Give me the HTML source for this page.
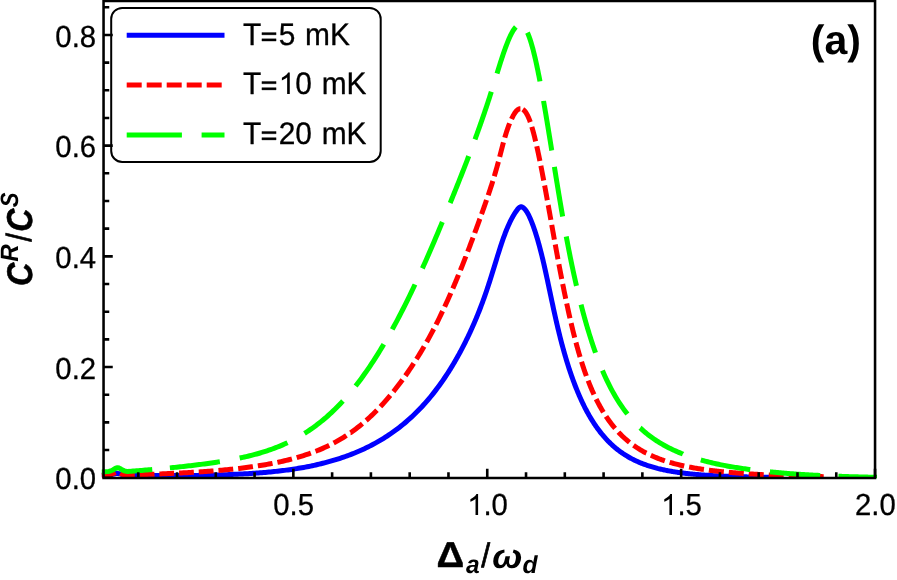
<!DOCTYPE html>
<html><head><meta charset="utf-8"><title>plot</title>
<style>
html,body{margin:0;padding:0;background:#fff;}
svg{display:block;font-family:"Liberation Sans",sans-serif;will-change:transform;text-rendering:geometricPrecision;}
</style></head><body>
<svg width="897" height="580" viewBox="0 0 897 580">
<rect width="897" height="580" fill="#fff"/>
<defs><clipPath id="pc"><rect x="101.07499999999999" y="0" width="776.4499999999999" height="478.29999999999995"/></clipPath></defs>
<g fill="none" stroke-width="5" stroke-linejoin="round" clip-path="url(#pc)">
<path d="M101.81,474.73 L103.55,474.73 L105.29,474.73 L107.03,474.72 L108.77,474.71 L110.51,474.65 L112.25,474.43 L113.99,473.99 L115.72,473.50 L117.46,473.36 L119.20,473.70 L120.94,474.22 L122.68,474.56 L124.42,474.69 L126.16,474.72 L127.90,474.73 L129.64,474.78 L131.38,474.85 L133.12,474.92 L134.86,474.98 L136.60,475.04 L138.34,475.09 L140.08,475.14 L141.82,475.19 L143.56,475.23 L145.30,475.27 L147.04,475.31 L148.78,475.34 L150.52,475.37 L152.26,475.40 L154.00,475.42 L155.74,475.45 L157.48,475.47 L159.22,475.48 L160.96,475.50 L162.70,475.51 L164.44,475.52 L166.17,475.53 L167.91,475.54 L169.65,475.55 L171.39,475.55 L173.13,475.55 L174.87,475.55 L176.61,475.55 L178.35,475.54 L180.09,475.54 L181.83,475.53 L183.57,475.52 L185.31,475.51 L187.05,475.50 L188.79,475.48 L190.53,475.46 L192.27,475.45 L194.01,475.43 L195.75,475.40 L197.49,475.38 L199.23,475.35 L200.97,475.32 L202.71,475.29 L204.45,475.26 L206.19,475.23 L207.93,475.19 L209.67,475.15 L211.41,475.11 L213.15,475.07 L214.89,475.03 L216.63,474.98 L218.36,474.93 L220.10,474.88 L221.84,474.82 L223.58,474.77 L225.32,474.71 L227.06,474.64 L228.80,474.58 L230.54,474.51 L232.28,474.44 L234.02,474.37 L235.76,474.29 L237.50,474.21 L239.24,474.12 L240.98,474.04 L242.72,473.95 L244.46,473.85 L246.20,473.75 L247.94,473.65 L249.68,473.55 L251.42,473.44 L253.16,473.32 L254.90,473.20 L256.64,473.08 L258.38,472.95 L260.12,472.82 L261.86,472.68 L263.60,472.54 L265.34,472.39 L267.08,472.24 L268.81,472.08 L270.55,471.91 L272.29,471.74 L274.03,471.57 L275.77,471.38 L277.51,471.19 L279.25,471.00 L280.99,470.79 L282.73,470.58 L284.47,470.36 L286.21,470.14 L287.95,469.91 L289.69,469.67 L291.43,469.42 L293.17,469.16 L294.91,468.89 L296.65,468.62 L298.39,468.33 L300.13,468.04 L301.87,467.74 L303.61,467.43 L305.35,467.10 L307.09,466.77 L308.83,466.43 L310.57,466.08 L312.31,465.71 L314.05,465.34 L315.79,464.95 L317.53,464.56 L319.27,464.15 L321.00,463.73 L322.74,463.30 L324.48,462.85 L326.22,462.40 L327.96,461.93 L329.70,461.45 L331.44,460.96 L333.18,460.45 L334.92,459.93 L336.66,459.40 L338.40,458.85 L340.14,458.29 L341.88,457.71 L343.62,457.12 L345.36,456.51 L347.10,455.89 L348.84,455.25 L350.58,454.59 L352.32,453.91 L354.06,453.22 L355.80,452.51 L357.54,451.78 L359.28,451.04 L361.02,450.27 L362.76,449.48 L364.50,448.68 L366.24,447.85 L367.98,447.00 L369.72,446.13 L371.45,445.24 L373.19,444.32 L374.93,443.38 L376.67,442.42 L378.41,441.43 L380.15,440.41 L381.89,439.38 L383.63,438.31 L385.37,437.22 L387.11,436.10 L388.85,434.95 L390.59,433.77 L392.33,432.56 L394.07,431.32 L395.81,430.05 L397.55,428.75 L399.29,427.42 L401.03,426.05 L402.77,424.64 L404.51,423.21 L406.25,421.73 L407.99,420.22 L409.73,418.67 L411.47,417.08 L413.21,415.45 L414.95,413.78 L416.69,412.07 L418.43,410.32 L420.17,408.52 L421.91,406.67 L423.64,404.78 L425.38,402.85 L427.12,400.86 L428.86,398.82 L430.60,396.74 L432.34,394.59 L434.08,392.40 L435.82,390.15 L437.56,387.85 L439.30,385.48 L441.04,383.06 L442.78,380.58 L444.52,378.03 L446.26,375.42 L448.00,372.74 L448.39,372.14 L448.78,371.53 L449.17,370.91 L449.55,370.29 L449.94,369.67 L450.33,369.05 L450.72,368.42 L451.11,367.79 L451.50,367.16 L451.88,366.52 L452.27,365.88 L452.66,365.23 L453.05,364.58 L453.44,363.93 L453.83,363.28 L454.22,362.62 L454.60,361.95 L454.99,361.28 L455.38,360.61 L455.77,359.94 L456.16,359.26 L456.55,358.58 L456.93,357.89 L457.32,357.20 L457.71,356.51 L458.10,355.81 L458.49,355.11 L458.88,354.40 L459.27,353.70 L459.65,352.98 L460.04,352.26 L460.43,351.54 L460.82,350.82 L461.21,350.09 L461.60,349.35 L461.98,348.62 L462.37,347.87 L462.76,347.13 L463.15,346.38 L463.54,345.62 L463.93,344.87 L464.32,344.10 L464.70,343.33 L465.09,342.56 L465.48,341.79 L465.87,341.00 L466.26,340.22 L466.65,339.43 L467.04,338.63 L467.42,337.83 L467.81,337.03 L468.20,336.22 L468.59,335.40 L468.98,334.58 L469.37,333.76 L469.75,332.93 L470.14,332.09 L470.53,331.25 L470.92,330.40 L471.31,329.55 L471.70,328.69 L472.09,327.83 L472.47,326.96 L472.86,326.08 L473.25,325.20 L473.64,324.31 L474.03,323.42 L474.42,322.52 L474.80,321.62 L475.19,320.71 L475.58,319.79 L475.97,318.86 L476.36,317.93 L476.75,316.99 L477.14,316.05 L477.52,315.10 L477.91,314.14 L478.30,313.17 L478.69,312.20 L479.08,311.22 L479.47,310.24 L479.85,309.24 L480.24,308.24 L480.63,307.23 L481.02,306.21 L481.41,305.19 L481.80,304.16 L482.19,303.11 L482.57,302.07 L482.96,301.01 L483.35,299.94 L483.74,298.87 L484.13,297.79 L484.52,296.69 L484.90,295.59 L485.29,294.48 L485.68,293.37 L486.07,292.24 L486.46,291.10 L486.85,289.96 L487.24,288.80 L487.62,287.63 L488.01,286.46 L488.40,285.27 L488.79,284.08 L489.18,282.88 L489.57,281.67 L489.95,280.45 L490.34,279.23 L490.73,278.00 L491.12,276.76 L491.51,275.52 L491.90,274.28 L492.29,273.02 L492.67,271.77 L493.06,270.51 L493.45,269.25 L493.84,267.99 L494.23,266.72 L494.62,265.46 L495.01,264.19 L495.39,262.93 L495.78,261.66 L496.17,260.40 L496.56,259.14 L496.95,257.88 L497.34,256.63 L497.72,255.38 L498.11,254.13 L498.50,252.89 L498.89,251.66 L499.28,250.43 L499.67,249.22 L500.06,248.01 L500.44,246.81 L500.83,245.63 L501.22,244.45 L501.61,243.29 L502.00,242.14 L502.39,241.00 L502.77,239.88 L503.16,238.77 L503.55,237.68 L503.94,236.61 L504.33,235.55 L504.72,234.51 L505.11,233.49 L505.49,232.48 L505.88,231.49 L506.27,230.52 L506.66,229.56 L507.05,228.62 L507.44,227.70 L507.82,226.79 L508.21,225.90 L508.60,225.03 L508.99,224.17 L509.38,223.33 L509.77,222.51 L510.16,221.70 L510.54,220.91 L510.93,220.13 L511.32,219.38 L511.71,218.63 L512.10,217.91 L512.49,217.20 L512.87,216.50 L513.26,215.83 L513.65,215.16 L514.04,214.52 L514.43,213.89 L514.82,213.27 L515.21,212.67 L515.59,212.08 L515.98,211.51 L516.37,210.96 L516.76,210.42 L517.15,209.89 L517.54,209.39 L517.92,208.91 L518.31,208.46 L518.70,208.05 L519.09,207.69 L519.48,207.38 L519.87,207.13 L520.26,206.94 L520.64,206.82 L521.03,206.78 L521.42,206.81 L521.81,206.90 L522.20,207.05 L522.59,207.24 L522.97,207.48 L523.36,207.76 L523.75,208.08 L524.14,208.43 L524.53,208.82 L524.92,209.25 L525.31,209.72 L525.69,210.22 L526.08,210.76 L526.47,211.33 L526.86,211.93 L527.25,212.57 L527.64,213.25 L528.03,213.95 L528.41,214.69 L528.80,215.45 L529.19,216.25 L529.58,217.07 L529.97,217.93 L530.36,218.81 L530.74,219.71 L531.13,220.65 L531.52,221.61 L531.91,222.59 L532.30,223.60 L532.69,224.64 L533.08,225.69 L533.46,226.77 L533.85,227.87 L534.24,228.99 L534.63,230.14 L535.02,231.30 L535.41,232.49 L535.79,233.71 L536.18,234.94 L536.57,236.20 L536.96,237.48 L537.35,238.79 L537.74,240.11 L538.13,241.47 L538.51,242.84 L538.90,244.24 L539.29,245.66 L539.68,247.10 L540.07,248.56 L540.46,250.05 L540.84,251.56 L541.23,253.09 L541.62,254.65 L542.01,256.23 L542.40,257.82 L542.79,259.44 L543.18,261.09 L543.56,262.75 L543.95,264.43 L544.34,266.14 L544.73,267.86 L545.12,269.60 L545.51,271.35 L545.89,273.12 L546.28,274.90 L546.67,276.70 L547.06,278.50 L547.45,280.31 L547.84,282.13 L548.23,283.96 L548.61,285.79 L549.00,287.62 L549.39,289.45 L549.78,291.29 L550.17,293.12 L550.56,294.96 L550.94,296.79 L551.33,298.62 L551.72,300.44 L552.11,302.26 L552.50,304.07 L552.89,305.88 L553.28,307.67 L553.66,309.46 L554.05,311.24 L554.44,313.00 L554.83,314.76 L555.22,316.50 L555.61,318.23 L555.99,319.95 L556.38,321.65 L556.77,323.34 L557.16,325.02 L557.55,326.67 L557.94,328.31 L558.33,329.94 L558.71,331.55 L559.10,333.14 L559.49,334.71 L559.88,336.26 L560.27,337.80 L560.66,339.32 L561.05,340.83 L561.43,342.31 L561.82,343.78 L562.21,345.24 L562.60,346.68 L562.99,348.10 L563.38,349.51 L563.76,350.90 L564.15,352.28 L564.54,353.64 L564.93,354.99 L565.32,356.32 L565.71,357.63 L566.10,358.94 L566.48,360.23 L566.87,361.50 L567.26,362.76 L567.65,364.01 L568.04,365.24 L568.43,366.46 L568.81,367.67 L569.20,368.86 L569.59,370.04 L569.98,371.20 L570.37,372.36 L570.76,373.50 L571.15,374.63 L571.53,375.75 L571.92,376.85 L572.31,377.94 L572.70,379.02 L573.09,380.09 L573.48,381.15 L573.86,382.19 L574.25,383.23 L574.64,384.25 L575.03,385.26 L575.42,386.26 L575.81,387.25 L576.20,388.23 L576.58,389.20 L576.97,390.16 L577.36,391.10 L577.75,392.04 L578.14,392.97 L578.53,393.89 L578.91,394.79 L579.30,395.69 L579.69,396.58 L580.08,397.45 L580.47,398.32 L580.86,399.18 L581.25,400.03 L581.63,400.87 L582.02,401.70 L582.41,402.52 L582.80,403.34 L583.19,404.14 L583.58,404.94 L583.96,405.72 L584.35,406.50 L584.74,407.27 L585.13,408.03 L585.52,408.79 L585.91,409.53 L586.30,410.27 L586.68,411.00 L587.07,411.72 L587.46,412.43 L587.85,413.14 L588.24,413.84 L588.63,414.53 L589.02,415.21 L589.40,415.88 L589.79,416.55 L590.18,417.21 L590.57,417.87 L590.96,418.52 L591.35,419.16 L591.73,419.79 L592.12,420.41 L592.51,421.03 L592.90,421.65 L593.29,422.25 L593.68,422.85 L594.07,423.45 L594.45,424.03 L594.84,424.61 L595.23,425.19 L595.62,425.76 L596.01,426.32 L596.40,426.87 L596.78,427.42 L597.17,427.97 L597.56,428.51 L597.95,429.04 L598.34,429.56 L598.73,430.09 L599.12,430.60 L599.50,431.11 L599.89,431.61 L600.28,432.11 L600.67,432.61 L601.06,433.09 L601.45,433.58 L601.83,434.05 L602.22,434.53 L602.61,434.99 L603.00,435.46 L603.86,436.47 L604.73,437.45 L605.59,438.41 L606.46,439.35 L607.32,440.27 L608.19,441.16 L609.05,442.04 L609.91,442.89 L610.78,443.72 L611.64,444.53 L612.51,445.32 L613.37,446.10 L614.24,446.85 L615.10,447.59 L615.96,448.31 L616.83,449.01 L617.69,449.69 L618.56,450.36 L619.42,451.01 L620.29,451.65 L621.15,452.27 L622.02,452.88 L622.88,453.47 L623.74,454.04 L624.61,454.61 L625.47,455.16 L626.34,455.69 L627.20,456.22 L628.07,456.73 L628.93,457.22 L629.79,457.71 L630.66,458.19 L631.52,458.65 L632.39,459.10 L633.25,459.54 L634.12,459.97 L634.98,460.39 L635.84,460.80 L636.71,461.20 L637.57,461.59 L638.44,461.97 L639.30,462.35 L640.17,462.71 L641.03,463.06 L641.89,463.41 L642.76,463.75 L643.62,464.08 L644.49,464.40 L645.35,464.71 L646.22,465.02 L647.08,465.31 L647.94,465.61 L648.81,465.89 L649.67,466.17 L650.54,466.44 L651.40,466.70 L652.27,466.96 L653.13,467.21 L653.99,467.46 L654.86,467.70 L655.72,467.93 L656.59,468.16 L657.45,468.39 L658.32,468.60 L659.18,468.82 L660.05,469.02 L660.91,469.23 L661.77,469.42 L662.64,469.62 L663.50,469.80 L664.37,469.99 L665.23,470.17 L666.10,470.34 L666.96,470.51 L667.82,470.68 L668.69,470.84 L669.55,471.00 L670.42,471.16 L671.28,471.31 L672.15,471.46 L673.01,471.60 L673.87,471.74 L674.74,471.88 L675.60,472.02 L676.47,472.15 L677.33,472.28 L678.20,472.40 L679.06,472.52 L679.92,472.64 L680.79,472.76 L681.65,472.87 L682.52,472.98 L683.38,473.09 L684.25,473.20 L685.11,473.30 L685.97,473.40 L686.84,473.50 L687.70,473.60 L688.57,473.69 L689.43,473.79 L690.30,473.88 L691.16,473.96 L692.03,474.05 L692.89,474.13 L693.75,474.21 L694.62,474.29 L695.48,474.37 L696.35,474.45 L697.21,474.52 L698.08,474.60 L698.94,474.67 L699.80,474.74 L700.67,474.80 L701.53,474.87 L702.40,474.93 L703.26,475.00 L704.13,475.06 L704.99,475.12 L705.85,475.18 L706.72,475.24 L707.58,475.29 L708.45,475.35 L709.31,475.40 L710.18,475.45 L711.04,475.51 L711.90,475.56 L712.77,475.60 L713.63,475.65 L714.50,475.70 L715.36,475.74 L716.23,475.79 L717.09,475.83 L717.95,475.88 L718.82,475.92 L719.68,475.96 L720.55,476.00 L721.41,476.04 L722.28,476.08 L723.14,476.11 L724.01,476.15 L724.87,476.19 L725.73,476.22 L726.60,476.25 L727.46,476.29 L728.33,476.32 L729.19,476.35 L730.06,476.38 L730.92,476.41 L731.78,476.44 L732.65,476.47 L733.51,476.50 L734.38,476.53 L735.24,476.56 L736.11,476.58 L736.97,476.61 L737.83,476.63 L738.70,476.66 L739.56,476.68 L740.43,476.71 L741.29,476.73 L742.16,476.75 L743.02,476.78 L743.88,476.80 L744.75,476.82 L745.61,476.84 L746.48,476.86 L747.34,476.88 L748.21,476.90 L749.07,476.92 L749.93,476.94 L750.80,476.96 L751.66,476.98 L752.53,476.99 L753.39,477.01 L754.26,477.03 L755.12,477.04 L755.98,477.06 L756.85,477.08 L757.71,477.09 L758.58,477.11 L759.44,477.12 L760.31,477.14 L761.17,477.15 L762.04,477.16 L762.90,477.18 L763.76,477.19 L764.63,477.20 L765.49,477.22 L766.36,477.23 L767.22,477.24 L768.09,477.25 L768.95,477.27 L769.81,477.28 L770.68,477.29 L771.54,477.30 L772.41,477.31 L773.27,477.32 L774.14,477.33 L775.00,477.34" stroke="#0000ff"/>
<path d="M101.81,475.58 L103.55,475.46 L105.29,475.33 L107.03,475.20 L108.77,475.02 L110.51,474.70 L112.25,474.17 L113.99,473.30 L115.58,472.51 M120.24,473.34 L120.94,473.72 L122.68,474.45 L124.42,474.79 L126.16,474.91 L127.90,474.93 L129.64,474.90 L131.38,474.85 L133.12,474.81 L134.75,474.76 M139.67,474.62 L140.08,474.61 L141.82,474.55 L143.56,474.50 L145.30,474.45 L147.04,474.39 L148.78,474.33 L150.52,474.27 L152.26,474.21 L154.00,474.15 L154.46,474.13 M159.39,473.95 L160.96,473.89 L162.70,473.82 L164.44,473.75 L166.17,473.68 L167.91,473.60 L169.65,473.53 L171.39,473.45 L173.13,473.37 L174.16,473.32 M179.09,473.09 L180.09,473.04 L181.83,472.95 L183.57,472.86 L185.31,472.76 L187.05,472.67 L188.79,472.57 L190.53,472.47 L192.27,472.37 L193.86,472.27 M198.78,471.96 L199.23,471.93 L200.97,471.82 L202.71,471.70 L204.45,471.58 L206.19,471.45 L207.93,471.33 L209.67,471.19 L211.41,471.06 L213.15,470.92 L213.53,470.89 M218.45,470.48 L220.10,470.34 L221.84,470.19 L223.58,470.03 L225.32,469.86 L227.06,469.70 L228.80,469.52 L230.54,469.35 L232.28,469.17 L233.21,469.07 M238.15,468.52 L239.24,468.40 L240.98,468.19 L242.72,467.98 L244.46,467.76 L246.20,467.54 L247.94,467.31 L249.68,467.08 L251.42,466.84 L252.94,466.63 M257.85,465.89 L258.38,465.81 L260.12,465.54 L261.86,465.26 L263.60,464.97 L265.34,464.67 L267.08,464.37 L268.81,464.05 L270.55,463.73 L272.29,463.40 L272.54,463.35 M277.41,462.37 L277.51,462.35 L279.25,461.98 L280.99,461.60 L282.73,461.21 L284.47,460.81 L286.21,460.39 L287.95,459.97 L289.69,459.53 L291.43,459.08 L291.92,458.95 M296.71,457.64 L298.39,457.15 L300.13,456.63 L301.87,456.10 L303.61,455.55 L305.35,454.99 L307.09,454.41 L308.83,453.81 L310.57,453.19 L310.90,453.07 M315.55,451.33 L315.79,451.24 L317.53,450.54 L319.27,449.83 L321.00,449.10 L322.74,448.34 L324.48,447.56 L326.22,446.76 L327.96,445.93 L329.19,445.33 M333.62,443.07 L334.92,442.38 L336.66,441.42 L338.40,440.43 L340.14,439.42 L341.88,438.38 L343.62,437.31 L345.36,436.21 L346.45,435.50 M350.57,432.72 L350.58,432.72 L352.32,431.49 L354.06,430.22 L355.80,428.93 L357.54,427.60 L359.28,426.23 L361.02,424.83 L362.42,423.67 M366.19,420.44 L366.24,420.40 L367.98,418.85 L369.72,417.26 L371.45,415.63 L373.19,413.97 L374.93,412.26 L376.67,410.51 L377.00,410.18 M380.44,406.59 L381.89,405.03 L383.63,403.11 L385.37,401.16 L387.11,399.17 L388.85,397.13 L390.29,395.41 M393.43,391.56 L394.07,390.77 L395.81,388.57 L397.55,386.32 L399.29,384.03 L401.03,381.71 L402.49,379.72 M405.39,375.68 L406.25,374.47 L407.99,371.97 L409.73,369.43 L411.47,366.83 L413.21,364.20 L413.76,363.35 M416.44,359.16 L416.69,358.77 L418.43,355.99 L420.17,353.14 L421.91,350.25 L423.64,347.30 L424.16,346.41 M426.63,342.10 L427.12,341.23 L428.86,338.10 L430.60,334.91 L432.34,331.66 L433.74,329.00 M436.01,324.58 L437.56,321.51 L439.30,317.99 L441.04,314.41 L442.57,311.20 M444.68,306.70 L446.26,303.27 L448.00,299.43 L448.39,298.56 L448.78,297.69 L449.17,296.82 L449.55,295.95 L449.94,295.07 L450.33,294.18 L450.72,293.30 L450.80,293.11 M452.78,288.55 L453.05,287.92 L453.44,287.01 L453.83,286.10 L454.22,285.19 L454.60,284.27 L454.99,283.35 L455.38,282.43 L455.77,281.50 L456.16,280.57 L456.55,279.64 L456.93,278.70 L457.32,277.77 L457.71,276.83 L458.10,275.88 L458.49,274.94 L458.54,274.80 M460.42,270.20 L460.43,270.16 L460.82,269.20 L461.21,268.23 L461.60,267.26 L461.98,266.29 L462.37,265.31 L462.76,264.33 L463.15,263.35 L463.54,262.37 L463.93,261.38 L464.32,260.39 L464.70,259.40 L465.09,258.41 L465.48,257.41 L465.87,256.41 L465.91,256.30 M467.71,251.64 L467.81,251.38 L468.20,250.36 L468.59,249.35 L468.98,248.33 L469.37,247.30 L469.75,246.28 L470.14,245.25 L470.53,244.22 L470.92,243.19 L471.31,242.16 L471.70,241.12 L472.09,240.09 L472.47,239.05 L472.86,238.00 L473.01,237.61 M474.75,232.92 L474.80,232.76 L475.19,231.71 L475.58,230.65 L475.97,229.59 L476.36,228.53 L476.75,227.47 L477.14,226.40 L477.52,225.34 L477.91,224.27 L478.30,223.20 L478.69,222.13 L479.08,221.05 L479.47,219.98 L479.85,218.90 L479.88,218.83 M481.57,214.12 L481.80,213.50 L482.19,212.41 L482.57,211.32 L482.96,210.24 L483.35,209.14 L483.74,208.05 L484.13,206.95 L484.52,205.85 L484.90,204.75 L485.29,203.64 L485.68,202.53 L486.07,201.42 L486.46,200.30 L486.57,199.98 M488.19,195.25 L488.40,194.62 L488.79,193.46 L489.18,192.30 L489.57,191.13 L489.95,189.96 L490.34,188.77 L490.73,187.58 L491.12,186.38 L491.51,185.17 L491.90,183.95 L492.29,182.72 L492.67,181.48 L492.83,180.98 M494.29,176.20 L494.62,175.12 L495.01,173.81 L495.39,172.49 L495.78,171.16 L496.17,169.81 L496.56,168.44 L496.95,167.06 L497.34,165.67 L497.72,164.26 L498.11,162.83 L498.40,161.77 M499.67,156.94 L500.06,155.45 L500.44,153.94 L500.83,152.42 L501.22,150.90 L501.61,149.38 L502.00,147.88 L502.39,146.38 L502.77,144.90 L503.16,143.44 L503.44,142.42 M504.79,137.61 L505.11,136.54 L505.49,135.25 L505.88,133.98 L506.27,132.75 L506.66,131.55 L507.05,130.38 L507.44,129.24 L507.82,128.13 L508.21,127.04 L508.60,125.99 L508.99,124.96 L509.38,123.97 L509.60,123.41 M511.49,119.05 L511.71,118.58 L512.10,117.78 L512.49,117.01 L512.87,116.27 L513.26,115.55 L513.65,114.87 L514.04,114.21 L514.43,113.59 L514.82,113.00 L515.21,112.44 L515.59,111.92 L515.98,111.43 L516.37,110.98 L516.76,110.57 L517.15,110.19 L517.54,109.86 L517.92,109.56 L518.31,109.31 L518.70,109.09 L519.09,108.92 L519.48,108.79 L519.87,108.71 L520.26,108.66 L520.41,108.66 M522.78,109.34 L522.97,109.47 L523.36,109.74 L523.75,110.06 L524.14,110.42 L524.53,110.83 L524.92,111.27 L525.31,111.76 L525.69,112.30 L526.08,112.88 L526.47,113.50 L526.86,114.18 L527.25,114.89 L527.64,115.65 L528.03,116.46 L528.41,117.32 L528.80,118.22 L529.19,119.17 L529.58,120.17 L529.97,121.21 L530.27,122.08 M531.82,126.83 L531.91,127.14 L532.30,128.46 L532.69,129.82 L533.08,131.22 L533.46,132.66 L533.85,134.14 L534.24,135.65 L534.63,137.20 L535.02,138.78 L535.41,140.39 L535.63,141.35 M536.76,146.22 L536.96,147.13 L537.35,148.88 L537.74,150.66 L538.13,152.46 L538.51,154.28 L538.90,156.13 L539.29,157.99 L539.68,159.88 L539.89,160.90 M540.87,165.81 L541.23,167.63 L541.62,169.62 L542.01,171.62 L542.40,173.63 L542.79,175.66 L543.18,177.71 L543.56,179.76 L543.71,180.55 M544.63,185.46 L544.73,186.01 L545.12,188.11 L545.51,190.23 L545.89,192.35 L546.28,194.48 L546.67,196.62 L547.06,198.76 L547.32,200.23 M548.21,205.15 L548.23,205.24 L548.61,207.40 L549.00,209.57 L549.39,211.74 L549.78,213.92 L550.17,216.10 L550.56,218.27 L550.85,219.93 M551.73,224.85 L552.11,226.98 L552.50,229.15 L552.89,231.33 L553.28,233.49 L553.66,235.66 L554.05,237.82 L554.38,239.63 M555.27,244.55 L555.61,246.41 L555.99,248.54 L556.38,250.67 L556.77,252.79 L557.16,254.90 L557.55,257.00 L557.94,259.10 L557.98,259.31 M558.90,264.23 L559.10,265.33 L559.49,267.38 L559.88,269.43 L560.27,271.47 L560.66,273.49 L561.05,275.51 L561.43,277.51 L561.72,278.99 M562.69,283.91 L562.99,285.40 L563.38,287.35 L563.76,289.27 L564.15,291.19 L564.54,293.09 L564.93,294.98 L565.32,296.86 L565.69,298.64 M566.73,303.54 L566.87,304.22 L567.26,306.03 L567.65,307.82 L568.04,309.59 L568.43,311.36 L568.81,313.10 L569.20,314.83 L569.59,316.55 L569.97,318.21 M571.11,323.09 L571.15,323.26 L571.53,324.90 L571.92,326.52 L572.31,328.13 L572.70,329.73 L573.09,331.30 L573.48,332.86 L573.86,334.41 L574.25,335.94 L574.64,337.46 L574.70,337.69 M575.97,342.53 L576.20,343.36 L576.58,344.80 L576.97,346.22 L577.36,347.62 L577.75,349.01 L578.14,350.39 L578.53,351.75 L578.91,353.09 L579.30,354.42 L579.69,355.74 L580.07,356.99 M581.54,361.78 L581.63,362.07 L582.02,363.30 L582.41,364.51 L582.80,365.70 L583.19,366.88 L583.58,368.04 L583.96,369.19 L584.35,370.33 L584.74,371.45 L585.13,372.56 L585.52,373.66 L585.91,374.74 L586.30,375.81 L586.37,376.01 M588.14,380.70 L588.24,380.96 L588.63,381.96 L589.02,382.94 L589.40,383.91 L589.79,384.87 L590.18,385.82 L590.57,386.75 L590.96,387.68 L591.35,388.59 L591.73,389.50 L592.12,390.39 L592.51,391.27 L592.90,392.14 L593.29,393.01 L593.68,393.86 L593.99,394.54 M596.16,399.06 L596.40,399.55 L596.78,400.32 L597.17,401.09 L597.56,401.85 L597.95,402.59 L598.34,403.33 L598.73,404.07 L599.12,404.79 L599.50,405.50 L599.89,406.21 L600.28,406.91 L600.67,407.60 L601.06,408.28 L601.45,408.96 L601.83,409.63 L602.22,410.29 L602.61,410.94 L603.00,411.58 L603.40,412.23 M606.09,416.45 L606.33,416.82 L607.44,418.46 L608.55,420.05 L609.66,421.58 L610.77,423.07 L611.88,424.52 L612.99,425.91 L614.11,427.27 L615.11,428.46 M618.46,432.19 L618.55,432.29 L619.66,433.45 L620.77,434.57 L621.88,435.67 L622.99,436.73 L624.10,437.76 L625.21,438.76 L626.32,439.72 L627.43,440.67 L628.54,441.58 L629.51,442.35 M633.52,445.36 L634.10,445.77 L635.21,446.53 L636.32,447.28 L637.43,448.00 L638.54,448.71 L639.65,449.39 L640.76,450.06 L641.87,450.71 L642.98,451.33 L644.09,451.95 L645.20,452.54 L646.31,453.12 L646.36,453.14 M650.86,455.34 L651.86,455.79 L652.97,456.28 L654.09,456.76 L655.20,457.23 L656.31,457.68 L657.42,458.13 L658.53,458.56 L659.64,458.98 L660.75,459.39 L661.86,459.78 L662.97,460.17 L664.08,460.55 L664.85,460.81 M669.63,462.31 L669.63,462.31 L670.74,462.63 L671.85,462.95 L672.96,463.26 L674.08,463.56 L675.19,463.85 L676.30,464.14 L677.41,464.42 L678.52,464.70 L679.63,464.96 L680.74,465.22 L681.85,465.48 L682.96,465.73 L684.07,465.97 L684.20,466.00 M689.11,467.00 L689.62,467.10 L690.73,467.31 L691.84,467.52 L692.95,467.72 L694.07,467.92 L695.18,468.11 L696.29,468.30 L697.40,468.48 L698.51,468.66 L699.62,468.84 L700.73,469.01 L701.84,469.18 L702.95,469.34 L703.93,469.48 M708.89,470.16 L709.61,470.26 L710.72,470.40 L711.83,470.54 L712.94,470.67 L714.06,470.80 L715.17,470.93 L716.28,471.06 L717.39,471.18 L718.50,471.31 L719.61,471.43 L720.72,471.54 L721.83,471.66 L722.94,471.77 L723.83,471.86 M728.81,472.33 L729.60,472.40 L730.71,472.49 L731.82,472.59 L732.93,472.68 L734.05,472.77 L735.16,472.86 L736.27,472.95 L737.38,473.04 L738.49,473.12 L739.60,473.21 L740.71,473.29 L741.82,473.37 L742.93,473.45 L743.77,473.51 M748.76,473.84 L749.59,473.89 L750.70,473.96 L751.81,474.03 L752.92,474.09 L754.04,474.16 L755.15,474.22 L756.26,474.29 L757.37,474.35 L758.48,474.41 L759.59,474.47 L760.70,474.53 L761.81,474.58 L762.92,474.64 L763.73,474.68 M768.73,474.92 L769.58,474.96 L770.69,475.01 L771.80,475.06 L772.91,475.11 L774.03,475.16 L775.14,475.20 L776.25,475.25 L777.36,475.29 L778.47,475.34 L779.58,475.38 L780.69,475.42 L781.80,475.47 L782.91,475.51 L783.71,475.54 M788.71,475.71 L789.57,475.74 L790.68,475.78 L791.79,475.82 L792.90,475.85 L794.02,475.89 L795.13,475.92 L796.24,475.96 L797.35,475.99 L798.46,476.02 L799.57,476.06 L800.68,476.09 L801.79,476.12 L802.90,476.15 L803.70,476.17 M808.70,476.30 L809.56,476.33 L810.67,476.35 L811.78,476.38 L812.89,476.41 L814.01,476.43 L815.12,476.46 L816.23,476.49 L817.34,476.51 L818.45,476.54 L819.56,476.56 L820.67,476.59 L821.78,476.61 L822.89,476.63 L823.70,476.65" stroke="#ff0000"/>
<path d="M101.81,471.92 L103.55,471.83 L105.29,471.74 L107.03,471.62 L108.77,471.42 L110.51,471.00 L112.25,470.30 L113.99,469.27 L115.72,468.24 L117.46,467.73 L119.20,468.06 L120.94,469.03 L122.68,470.10 L124.42,470.87 L126.16,471.27 L127.90,471.43 L129.64,471.37 L131.38,471.24 L133.12,471.10 L134.86,470.96 L136.60,470.82 L138.34,470.68 L140.08,470.54 L141.82,470.40 L143.56,470.25 L145.30,470.11 L147.04,469.96 L148.78,469.81 L150.52,469.66 L152.26,469.51 M169.88,467.87 L171.39,467.72 L173.13,467.54 L174.87,467.37 L176.61,467.19 L178.35,467.00 L180.09,466.82 L181.83,466.63 L183.57,466.44 L185.31,466.25 L187.05,466.05 L188.79,465.85 L190.53,465.65 L192.27,465.45 L194.01,465.24 L195.75,465.03 L197.49,464.81 L199.23,464.59 L200.97,464.37 L202.71,464.14 L204.45,463.91 L206.19,463.68 L207.93,463.44 L209.67,463.20 L211.41,462.95 L213.15,462.69 L214.89,462.43 L216.63,462.17 L218.36,461.90 L219.88,461.66 M239.68,458.04 L240.98,457.77 L242.72,457.39 L244.46,457.00 L246.20,456.61 L247.94,456.20 L249.68,455.78 L251.42,455.34 L253.16,454.90 L254.90,454.44 L256.64,453.97 L258.38,453.48 L260.12,452.98 L261.86,452.46 L263.60,451.93 L265.34,451.38 L267.08,450.81 L268.81,450.22 L270.55,449.62 L272.29,449.00 L274.03,448.35 L275.77,447.69 L277.51,447.01 L279.25,446.31 L280.99,445.58 L282.73,444.84 L284.47,444.07 L286.21,443.28 L287.55,442.65 M304.50,433.39 L305.35,432.86 L307.09,431.74 L308.83,430.59 L310.57,429.41 L312.31,428.20 L314.05,426.96 L315.79,425.68 L317.53,424.37 L319.27,423.02 L321.00,421.64 L322.74,420.23 L324.48,418.77 L326.22,417.28 L327.96,415.75 L329.70,414.19 L331.44,412.58 L333.18,410.94 L334.92,409.25 L336.66,407.53 L338.40,405.76 L340.14,403.95 L341.88,402.10 L342.91,400.99 M355.62,385.98 L355.80,385.75 L357.54,383.50 L359.28,381.21 L361.02,378.88 L362.76,376.50 L364.50,374.08 L366.24,371.61 L367.98,369.09 L369.72,366.54 L371.45,363.93 L373.19,361.29 L374.93,358.60 L376.67,355.86 L378.41,353.08 L380.15,350.26 L381.89,347.39 L383.63,344.47 L383.78,344.22 M392.26,329.37 L392.33,329.23 L394.07,326.05 L395.81,322.83 L397.55,319.56 L399.29,316.25 L401.03,312.89 L402.77,309.49 L404.51,306.05 L406.25,302.57 L407.99,299.05 L409.73,295.48 L411.47,291.88 L413.21,288.23 L414.95,284.55 L415.01,284.41 M422.39,268.36 L423.64,265.57 L425.38,261.66 L427.12,257.73 L428.86,253.76 L430.60,249.76 L432.34,245.73 L434.08,241.67 L435.82,237.58 L437.56,233.47 L439.30,229.33 L441.04,225.16 L442.33,222.07 M450.18,202.96 L450.33,202.58 L450.72,201.63 L451.11,200.67 L451.50,199.72 L451.88,198.76 L452.27,197.80 L452.66,196.84 L453.05,195.88 L453.44,194.92 L453.83,193.96 L454.22,193.00 L454.60,192.04 L454.99,191.07 L455.38,190.11 L455.77,189.14 L456.16,188.17 L456.55,187.20 L456.93,186.23 L457.32,185.26 L457.71,184.29 L458.10,183.32 L458.49,182.34 L458.88,181.37 L459.27,180.39 L459.65,179.41 L460.04,178.43 L460.43,177.45 L460.82,176.47 L461.21,175.49 L461.60,174.50 L461.98,173.52 L462.37,172.53 L462.76,171.54 L463.15,170.55 L463.54,169.55 L463.93,168.56 L464.32,167.56 L464.70,166.57 L465.09,165.57 L465.48,164.56 L465.87,163.56 L466.26,162.56 L466.65,161.55 L467.04,160.54 L467.42,159.53 L467.81,158.52 L468.20,157.50 L468.59,156.49 L468.73,156.10 M474.97,139.44 L475.19,138.85 L475.58,137.78 L475.97,136.72 L476.36,135.65 L476.75,134.58 L477.14,133.51 L477.52,132.43 L477.91,131.35 L478.30,130.27 L478.69,129.19 L479.08,128.10 L479.47,127.00 L479.85,125.91 L480.24,124.81 L480.63,123.71 L481.02,122.60 L481.41,121.49 L481.80,120.38 L482.19,119.26 L482.57,118.14 L482.96,117.01 L483.35,115.88 L483.74,114.75 L484.13,113.61 L484.52,112.47 L484.90,111.32 L485.29,110.17 L485.68,109.02 L486.07,107.86 L486.46,106.70 L486.85,105.53 L487.24,104.36 L487.62,103.18 L488.01,102.00 L488.40,100.82 L488.79,99.63 L489.18,98.43 L489.57,97.23 L489.95,96.02 L490.34,94.81 L490.73,93.60 L491.12,92.38 L491.31,91.77 M497.01,73.48 L497.34,72.42 L497.72,71.17 L498.11,69.92 L498.50,68.68 L498.89,67.45 L499.28,66.21 L499.67,64.99 L500.06,63.77 L500.44,62.55 L500.83,61.35 L501.22,60.15 L501.61,58.96 L502.00,57.78 L502.39,56.61 L502.77,55.45 L503.16,54.29 L503.55,53.16 L503.94,52.03 L504.33,50.92 L504.72,49.82 L505.11,48.73 L505.49,47.66 L505.88,46.61 L506.27,45.57 L506.66,44.54 L507.05,43.54 L507.44,42.55 L507.82,41.59 L508.21,40.64 L508.60,39.71 L508.99,38.80 L509.38,37.92 L509.77,37.06 L510.16,36.22 L510.54,35.40 L510.93,34.61 L511.32,33.85 L511.71,33.11 L512.10,32.39 L512.49,31.71 L512.87,31.05 L513.26,30.42 L513.65,29.82 L514.04,29.25 L514.43,28.71 L514.82,28.20 L515.21,27.72 L515.59,27.28 L515.84,27.01 M527.46,32.63 L527.64,33.01 L528.03,33.92 L528.41,34.87 L528.80,35.86 L529.19,36.91 L529.58,38.00 L529.97,39.13 L530.36,40.31 L530.74,41.53 L531.13,42.80 L531.52,44.10 L531.91,45.45 L532.30,46.84 L532.69,48.26 L533.08,49.73 L533.46,51.24 L533.85,52.78 L534.24,54.36 L534.63,55.97 L535.02,57.62 L535.41,59.30 L535.79,61.02 L536.18,62.77 L536.57,64.55 L536.96,66.36 L537.35,68.20 L537.74,70.07 L538.13,71.97 L538.51,73.90 L538.90,75.85 L539.29,77.83 L539.68,79.83 L539.97,81.36 M543.52,100.82 L543.56,101.09 L543.95,103.32 L544.34,105.56 L544.73,107.82 L545.12,110.10 L545.51,112.39 L545.89,114.69 L546.28,117.00 L546.67,119.33 L547.06,121.66 L547.45,124.01 L547.84,126.36 L548.23,128.72 L548.61,131.10 L549.00,133.47 L549.39,135.86 L549.78,138.25 L550.17,140.65 L550.56,143.05 L550.94,145.45 L551.33,147.86 L551.72,150.27 L551.77,150.54 M554.39,166.83 L554.44,167.17 L554.83,169.58 L555.22,171.98 L555.61,174.38 L555.99,176.78 L556.38,179.17 L556.77,181.55 L557.16,183.93 L557.55,186.30 L557.94,188.66 L558.33,191.01 L558.71,193.36 L559.10,195.69 L559.49,198.02 L559.88,200.33 L560.27,202.63 L560.66,204.93 L561.05,207.21 L561.43,209.48 L561.82,211.73 L562.21,213.98 L562.60,216.21 L562.66,216.55 M566.26,236.50 L566.48,237.72 L566.87,239.78 L567.26,241.83 L567.65,243.86 L568.04,245.88 L568.43,247.88 L568.81,249.86 L569.20,251.83 L569.59,253.78 L569.98,255.72 L570.37,257.64 L570.76,259.55 L571.15,261.44 L571.53,263.31 L571.92,265.17 L572.31,267.02 L572.70,268.85 L573.09,270.66 L573.48,272.46 L573.86,274.25 L574.25,276.02 L574.64,277.77 L575.03,279.51 L575.42,281.24 L575.81,282.95 L576.20,284.64 L576.47,285.85 M581.02,304.54 L581.25,305.43 L581.63,306.94 L582.02,308.43 L582.41,309.90 L582.80,311.37 L583.19,312.82 L583.58,314.26 L583.96,315.69 L584.35,317.10 L584.74,318.50 L585.13,319.89 L585.52,321.27 L585.91,322.63 L586.30,323.99 L586.68,325.33 L587.07,326.65 L587.46,327.97 L587.85,329.27 L588.24,330.57 L588.63,331.85 L589.02,333.12 L589.40,334.37 L589.79,335.62 L590.18,336.86 L590.57,338.08 L590.96,339.29 L591.35,340.49 L591.73,341.68 L592.12,342.86 L592.51,344.03 L592.90,345.19 L593.29,346.34 L593.68,347.47 L594.07,348.60 L594.45,349.71 L594.84,350.82 L595.23,351.91 L595.54,352.78 M602.45,370.48 L602.61,370.86 L603.00,371.77 L604.38,374.91 L605.75,377.94 L607.13,380.87 L608.51,383.71 L609.88,386.44 L611.26,389.08 L612.64,391.63 L614.01,394.09 L615.39,396.47 L616.77,398.77 L618.14,400.98 L619.52,403.12 L620.90,405.19 L622.27,407.18 L623.65,409.12 L625.03,410.98 L626.40,412.78 L627.42,414.08 M640.14,427.89 L640.17,427.91 L641.55,429.17 L642.92,430.40 L644.30,431.59 L645.68,432.74 L647.05,433.85 L648.43,434.94 L649.81,435.99 L651.18,437.01 L652.56,438.00 L653.94,438.96 L655.31,439.89 L656.69,440.80 L658.07,441.68 L659.44,442.54 L660.82,443.37 L662.20,444.18 L663.57,444.96 L664.95,445.73 L666.33,446.47 L667.70,447.20 L669.08,447.90 L670.46,448.59 L671.83,449.25 L673.21,449.90 L674.59,450.53 L675.96,451.15 L677.34,451.75 L678.72,452.33 L680.09,452.90 L681.47,453.45 L682.85,453.99 L682.88,454.01 M700.81,459.94 L702.12,460.31 L703.50,460.68 L704.88,461.05 L706.25,461.41 L707.63,461.76 L709.01,462.10 L710.38,462.43 L711.76,462.76 L713.14,463.08 L714.51,463.39 L715.89,463.70 L717.27,464.00 L718.64,464.29 L720.02,464.58 L721.40,464.86 L722.77,465.13 L724.15,465.40 L725.53,465.67 L726.90,465.92 L728.28,466.18 L729.66,466.42 L731.03,466.67 L732.41,466.90 L733.79,467.14 L735.16,467.36 L736.54,467.59 L737.92,467.80 L739.29,468.02 L740.67,468.23 L742.05,468.44 L743.42,468.64 L744.80,468.84 L746.18,469.03 L747.55,469.22 L748.93,469.41 L750.24,469.58 M769.92,471.85 L770.96,471.95 L772.33,472.09 L773.71,472.22 L775.09,472.35 L776.46,472.47 L777.84,472.60 L779.22,472.72 L780.59,472.84 L781.97,472.96 L783.35,473.08 L784.72,473.19 L786.10,473.30 L787.48,473.41 L788.85,473.52 L790.23,473.62 L791.61,473.73 L792.98,473.83 L794.36,473.93 L795.74,474.03 L797.11,474.12 L798.49,474.22 L799.87,474.31 L801.24,474.40 L802.62,474.49 L804.00,474.57 L805.37,474.66 L806.75,474.74 L808.13,474.82 L809.50,474.90 L810.88,474.98 L812.26,475.06 L813.63,475.14 L815.01,475.21 L816.39,475.28 L817.76,475.35 L819.14,475.42 L820.18,475.48 M838.42,476.26 L839.79,476.31 L841.17,476.36 L842.55,476.41 L843.92,476.45 L845.30,476.50 L846.68,476.55 L848.05,476.59 L849.43,476.63 L850.81,476.67 L852.18,476.72 L853.56,476.76 L854.94,476.79 L856.31,476.83 L857.69,476.87 L859.07,476.91 L860.44,476.94 L861.82,476.97 L863.20,477.01 L864.57,477.04 L865.95,477.07 L867.33,477.10 L868.70,477.13 L870.08,477.16 L871.46,477.19 L872.83,477.22 L874.21,477.25 L875.59,477.27 L876.96,477.30" stroke="#00ff00"/>
</g>
<g font-size="29.3" fill="#000" stroke="#000" stroke-width="0.3" stroke-linejoin="round"><text transform="translate(293.65,515.0) scale(1,1.04)" text-anchor="middle">0.5</text><path transform="translate(467.18,515.00) scale(0.01431,-0.01424)" d="M763,0L583,0L583,1147Q518,1085 412.5,1023Q307,961 223,930L223,1104Q374,1175 487,1276Q600,1377 647,1472L763,1472Z"/><text transform="translate(483.48,515.0) scale(1,1.04)">.0</text><path transform="translate(661.08,515.00) scale(0.01431,-0.01424)" d="M763,0L583,0L583,1147Q518,1085 412.5,1023Q307,961 223,930L223,1104Q374,1175 487,1276Q600,1377 647,1472L763,1472Z"/><text transform="translate(677.38,515.0) scale(1,1.04)">.5</text><text transform="translate(875.35,515.0) scale(1,1.04)" text-anchor="middle">2.0</text><text transform="translate(96.1,489.35) scale(1,1.04)" text-anchor="end">0.0</text><text transform="translate(96.1,378.65) scale(1,1.04)" text-anchor="end">0.2</text><text transform="translate(96.1,267.95) scale(1,1.04)" text-anchor="end">0.4</text><text transform="translate(96.1,157.25) scale(1,1.04)" text-anchor="end">0.6</text><text transform="translate(96.1,46.55) scale(1,1.04)" text-anchor="end">0.8</text></g>
<rect x="111.2" y="7.9" width="269.5" height="154.1" rx="11" ry="11" fill="#fff" stroke="#000" stroke-width="2.0"/>
<g stroke-width="5" fill="none">
<path d="M126.7,35.2H224.5" stroke="#0000ff"/>
<path d="M126.7,85.05H224.5" stroke="#ff0000" stroke-dasharray="15 5"/>
<path d="M126.7,135.05H224.5" stroke="#00ff00" stroke-dasharray="55.2 19.7"/>
</g>
<g font-size="29.9" fill="#000" word-spacing="1.5" stroke="#000" stroke-width="0.3" stroke-linejoin="round">
<text transform="translate(242.9,45.0) scale(1,1.04)">T</text><rect x="261.90" y="32.55" width="14.2" height="2.3"/><rect x="261.90" y="38.75" width="14.2" height="2.3"/><text transform="translate(278.63,45.0) scale(1,1.04)">5 mK</text><text transform="translate(242.9,93.9) scale(1,1.04)">T</text><rect x="261.90" y="81.45" width="14.2" height="2.3"/><rect x="261.90" y="87.65" width="14.2" height="2.3"/><path transform="translate(278.63,93.90) scale(0.01460,-0.01453)" d="M763,0L583,0L583,1147Q518,1085 412.5,1023Q307,961 223,930L223,1104Q374,1175 487,1276Q600,1377 647,1472L763,1472Z"/><text transform="translate(295.25,93.9) scale(1,1.04)">0 mK</text><text transform="translate(242.9,143.9) scale(1,1.04)">T</text><rect x="261.90" y="131.45" width="14.2" height="2.3"/><rect x="261.90" y="137.65" width="14.2" height="2.3"/><text transform="translate(278.63,143.9) scale(1,1.04)">20 mK</text>
</g>
<path d="M138.23,477.90v-5.70 M177.01,477.90v-5.70 M215.79,477.90v-5.70 M254.57,477.90v-5.70 M293.35,477.90v-9.20 M332.13,477.90v-5.70 M370.91,477.90v-5.70 M409.69,477.90v-5.70 M448.47,477.90v-5.70 M487.25,477.90v-9.20 M526.03,477.90v-5.70 M564.81,477.90v-5.70 M603.59,477.90v-5.70 M642.37,477.90v-5.70 M681.15,477.90v-9.20 M719.93,477.90v-5.70 M758.71,477.90v-5.70 M797.49,477.90v-5.70 M836.27,477.90v-5.70 M875.05,477.90v-9.20 M103.55,477.75h9.20 M103.55,450.07h5.70 M103.55,422.40h5.70 M103.55,394.73h5.70 M103.55,367.05h9.20 M103.55,339.38h5.70 M103.55,311.70h5.70 M103.55,284.02h5.70 M103.55,256.35h9.20 M103.55,228.67h5.70 M103.55,201.00h5.70 M103.55,173.32h5.70 M103.55,145.65h9.20 M103.55,117.97h5.70 M103.55,90.30h5.70 M103.55,62.62h5.70 M103.55,34.95h9.20 M103.55,7.27h5.70" stroke="#000" stroke-width="2.6" fill="none"/>
<path d="M103.55,479.17499999999995V1.0H875.05V477.9H102.27499999999999" stroke="#000" stroke-width="2.55" fill="none" stroke-linejoin="miter"/>
<text x="835.9" y="54.3" font-size="41.0" font-weight="bold" text-anchor="middle">(a)</text>
<text transform="translate(436.54,567.20) scale(1.1321,1.0571)" font-size="34.1" font-weight="bold" stroke="#000" stroke-width="0.4" stroke-linejoin="round">&#916;</text>
<text transform="translate(466.08,573.45) scale(1.0133,1.0409)" font-size="24.2" font-weight="bold" font-style="italic">a</text>
<text transform="translate(481.15,567.02) scale(0.9394,0.9943)" font-size="34.1"  stroke="#000" stroke-width="0.7" stroke-linejoin="round">/</text>
<text transform="translate(492.33,567.76) scale(1.0572,1.0135)" font-size="34.1" font-weight="bold" font-style="italic">&#969;</text>
<text transform="translate(522.50,573.25) scale(1.0199,1.0094)" font-size="24.2" font-weight="bold" font-style="italic">d</text>
<text transform="translate(31.50,286.03) rotate(-90) scale(0.9460,1.0479)" font-size="34.1" font-weight="bold" font-style="italic" stroke="#000" stroke-width="0.5" stroke-linejoin="round">C</text>
<text transform="translate(17.60,261.82) rotate(-90) scale(0.9949,1.0331)" font-size="24.2" font-weight="bold" font-style="italic">R</text>
<text transform="translate(31.21,241.75) rotate(-90) scale(0.9183,1.0223)" font-size="34.1"  stroke="#000" stroke-width="0.7" stroke-linejoin="round">/</text>
<text transform="translate(31.70,231.72) rotate(-90) scale(0.9418,1.0562)" font-size="34.1" font-weight="bold" font-style="italic" stroke="#000" stroke-width="0.5" stroke-linejoin="round">C</text>
<text transform="translate(17.56,207.27) rotate(-90) scale(0.9168,1.0330)" font-size="24.2" font-weight="bold" font-style="italic">S</text>
</svg>
</body></html>
